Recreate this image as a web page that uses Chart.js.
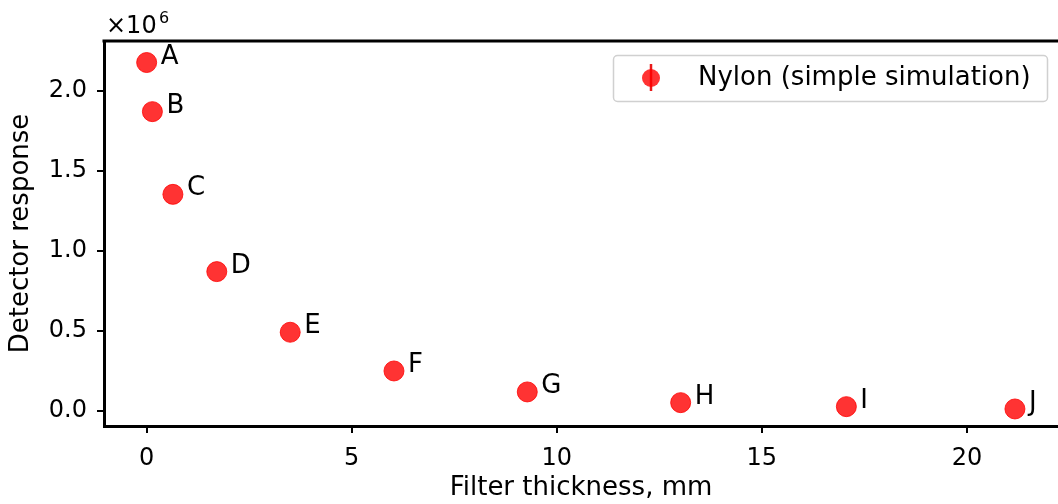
<!DOCTYPE html>
<html>
<head>
<meta charset="utf-8">
<script src="https://cdn.jsdelivr.net/npm/chart.js@4.4.1/dist/chart.umd.min.js"></script>
<style>
  html, body { margin: 0; padding: 0; background: #fff; overflow: hidden; }
  #wrap { width: 1058px; height: 504px; position: relative; }
</style>
</head>
<body>
<div id="wrap"><canvas id="filterChart"></canvas></div>
<script>
// filter thickness (mm) vs detector response, one point per filter
const filterNames = ["A", "B", "C", "D", "E", "F", "G", "H", "I", "J"];
const thickness = [0, 0.14, 0.64, 1.71, 3.50, 6.03, 9.28, 13.02, 17.06, 21.17];
const response = [2.178e6, 1.871e6, 1.354e6, 0.871e6, 0.492e6, 0.250e6, 0.119e6, 0.052e6, 0.027e6, 0.0125e6];
const xTicks = [0, 5, 10, 15, 20];
const yTicks = [0, 0.5e6, 1.0e6, 1.5e6, 2.0e6];

const FONT = "DejaVu Sans";
const RED = "rgba(255, 0, 0, 0.8)";

const points = thickness.map((x, i) => ({ x: x, y: response[i] }));

// spine on top, point labels, offset text and legend box
const extras = {
  id: "extras",
  afterDatasetsDraw(chart) {
    const { ctx, chartArea } = chart;
    const meta = chart.getDatasetMeta(0);
    ctx.save();

    ctx.strokeStyle = "#000";
    ctx.lineWidth = 3;
    ctx.beginPath();
    ctx.moveTo(chartArea.left - 1.5, chartArea.top);
    ctx.lineTo(chartArea.right + 2, chartArea.top);
    ctx.stroke();

    ctx.fillStyle = "#000";
    ctx.font = "26px '" + FONT + "'";
    ctx.textBaseline = "alphabetic";
    ctx.textAlign = "left";
    meta.data.forEach((pt, i) => {
      ctx.fillText(filterNames[i], pt.x + 14, pt.y + 1);
    });

    // x10^6 multiplier above the y axis
    ctx.font = "24px '" + FONT + "'";
    ctx.fillText("\u00d710", 106, 33);
    ctx.font = "16px '" + FONT + "'";
    ctx.fillText("6", 159, 23);

    // legend
    const bx = 613, by = 55, bw = 434, bh = 46;
    ctx.beginPath();
    ctx.roundRect(bx + 0.5, by + 0.5, bw, bh, 4);
    ctx.fillStyle = "rgba(255,255,255,0.8)";
    ctx.fill();
    ctx.strokeStyle = "#d0d0d0";
    ctx.lineWidth = 1.5;
    ctx.stroke();

    ctx.strokeStyle = "rgba(230, 0, 0, 0.9)";
    ctx.lineWidth = 2.5;
    ctx.beginPath();
    ctx.moveTo(651, 64);
    ctx.lineTo(651, 91);
    ctx.stroke();
    ctx.beginPath();
    ctx.arc(651, 78, 9, 0, Math.PI * 2);
    ctx.fillStyle = RED;
    ctx.fill();

    ctx.fillStyle = "#000";
    ctx.font = "26px '" + FONT + "'";
    ctx.textBaseline = "middle";
    ctx.fillText(chart.data.datasets[0].label, 698, 78);

    ctx.restore();
  }
};

new Chart(document.getElementById("filterChart"), {
  type: "scatter",
  data: {
    datasets: [
      {
        label: "Nylon (simple simulation)",
        data: points,
        pointRadius: 10,
        pointHoverRadius: 10,
        backgroundColor: RED,
        borderColor: RED,
        borderWidth: 1,
      },
    ],
  },
  options: {
    responsive: true,
    maintainAspectRatio: false,
    animation: false,
    events: [],
    layout: { autoPadding: false, padding: { top: 41, right: 0, left: 0, bottom: 0 } },
    plugins: {
      legend: { display: false },
      tooltip: { enabled: false },
    },
    scales: {
      x: {
        type: "linear",
        min: -1.04,
        max: 22.22,
        afterBuildTicks: (scale) => {
          scale.ticks = xTicks.map((v) => ({ value: v }));
        },
        afterFit: (scale) => {
          scale.height = 78;
        },
        border: { display: true, color: "#000", width: 3 },
        grid: { drawOnChartArea: false, drawTicks: true, tickLength: 7, color: "#000", lineWidth: 2 },
        ticks: {
          color: "#000",
          font: { family: FONT, size: 24 },
          padding: 11,
          maxRotation: 0,
          callback: (v) => String(v),
        },
        title: {
          display: true,
          text: "Filter thickness, mm",
          color: "#000",
          font: { family: FONT, size: 26 },
          padding: { top: 0, bottom: 0 },
        },
      },
      y: {
        type: "linear",
        min: -0.094e6,
        max: 2.3125e6,
        afterBuildTicks: (scale) => {
          scale.ticks = yTicks.map((v) => ({ value: v }));
        },
        afterFit: (scale) => {
          scale.width = 104;
        },
        border: { display: true, color: "#000", width: 3 },
        grid: { drawOnChartArea: false, drawTicks: true, tickLength: 7, color: "#000", lineWidth: 2 },
        ticks: {
          color: "#000",
          font: { family: FONT, size: 24 },
          padding: 10,
          callback: (v) => (v / 1e6).toFixed(1),
        },
        title: {
          display: true,
          text: "Detector response",
          color: "#000",
          font: { family: FONT, size: 26 },
          padding: { top: 6, bottom: 0 },
        },
      },
    },
  },
  plugins: [extras],
});
</script>
</body>
</html>
